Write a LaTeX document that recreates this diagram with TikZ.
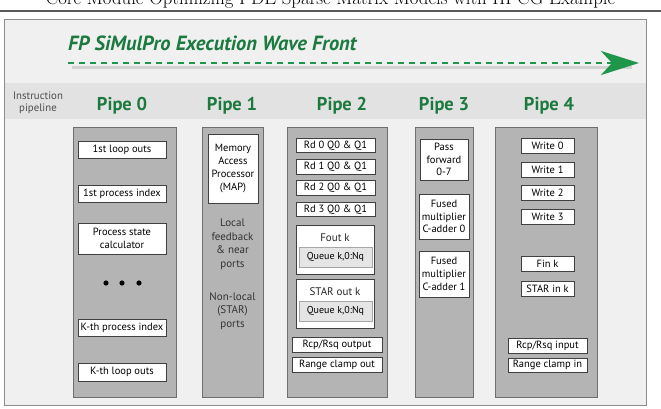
\documentclass[tikz,border=0pt]{standalone}
\usepackage{fontspec}
\setsansfont{PT Sans}
\usetikzlibrary{arrows.meta}
\definecolor{wavegreen}{RGB}{30,150,76}
\definecolor{pipegreen}{RGB}{28,122,64}
\definecolor{framegray}{RGB}{240,240,240}
\definecolor{bandgray}{RGB}{226,226,226}
\definecolor{colgray}{RGB}{180,180,180}
\definecolor{edgegray}{RGB}{110,110,110}

\begin{document}
\begin{tikzpicture}[
  x=1pt, y=-1pt,
  pipe/.style={draw=edgegray, fill=colgray, line width=0.9pt, inner sep=0pt},
  cell/.style={draw=black!75, fill=white, line width=0.8pt, align=center,
               inner sep=1pt, font=\sffamily\fontsize{10.5}{12.7}\selectfont},
  queue/.style={draw=black!35, fill=black!10, line width=0.6pt, inner sep=1pt,
                minimum width=73pt, minimum height=20pt,
                font=\sffamily\fontsize{10}{12}\selectfont},
  note/.style={align=center, inner sep=0pt, text=black!80,
               font=\sffamily\fontsize{11}{13.5}\selectfont},
  pipelabel/.style={text=pipegreen, inner sep=0pt,
                    font=\sffamily\bfseries\fontsize{18.5}{20}\selectfont},
  wave/.style={wavegreen, line width=2.8pt, dash pattern=on 6pt off 5pt,
               -{Stealth[length=38pt, width=24pt, inset=11pt]}}
]
  \useasboundingbox (0,0) rectangle (661,409);

  % page header, cut at the top
  \node[anchor=base, font=\fontsize{18.8}{20}\selectfont, inner sep=0pt] (header)
    at (330.5,4.5) {Core Module Optimizing PDE Sparse Matrix Models with HPCG Example};
  \draw[black!65, line width=1.2pt] (0,11) -- (661,11);

  % frame and pipeline band
  \filldraw[fill=framegray, draw=black!45, line width=0.9pt] (4,19) rectangle (646,405);
  \fill[bandgray] (4.5,83) rectangle (645.5,119);

  \node[anchor=west, text=pipegreen, inner sep=0pt,
        font=\sffamily\bfseries\itshape\fontsize{20.5}{22}\selectfont] (title)
    at (68,43) {FP SiMulPro Execution Wave Front};
  \coordinate (wave start) at (68,63);
  \coordinate (wave end) at (639,63);
  \draw[black, opacity=0.12, line width=3pt] (72,68) -- (632,68);
  \draw[wave] (wave start) -- (wave end);

  \node[note, text=black!70, font=\sffamily\fontsize{10.8}{12.5}\selectfont] (instr)
    at (38,103) {Instruction\\pipeline};
  \node[pipelabel] (p0) at (122,106) {Pipe 0};
  \node[pipelabel] (p1) at (232,106) {Pipe 1};
  \node[pipelabel] (p2) at (342,106) {Pipe 2};
  \node[pipelabel] (p3) at (444,106) {Pipe 3};
  \node[pipelabel] (p4) at (549,106) {Pipe 4};

  % pipe columns
  \node[pipe, minimum width=103pt, minimum height=270pt] (col0) at (124.5,262) {};
  \node[pipe, minimum width=61pt, minimum height=270pt] (col1) at (232.5,262) {};
  \node[pipe, minimum width=100pt, minimum height=270pt] (col2) at (337,262) {};
  \node[pipe, minimum width=58pt, minimum height=270pt] (col3) at (444,262) {};
  \node[pipe, minimum width=102pt, minimum height=270pt] (col4) at (546,262) {};

  % Pipe 0
  \node[cell, minimum width=88pt, minimum height=17pt] (loop1) at (122,149.5) {1st loop outs};
  \node[cell, minimum width=88pt, minimum height=17pt] (pidx1) at (122,193.5) {1st process index};
  \node[cell, minimum width=88pt, minimum height=31pt] (psc) at (122,238.5) {Process state\\calculator};
  \foreach \x [count=\i] in {106,122,139}
    \fill (\x,283) circle (2.6pt) coordinate (dot\i);
  \node[cell, minimum width=88pt, minimum height=17pt] (pidxk) at (122,327.5) {K-th process index};
  \node[cell, minimum width=88pt, minimum height=18pt] (loopk) at (122,372) {K-th loop outs};

  % Pipe 1
  \node[cell, minimum width=50pt, minimum height=69pt] (map) at (233,168.5)
    {Memory\\Access\\Processor\\(MAP)};
  \node[note] (local) at (232.5,244) {Local\\feedback\\\& near\\ports};
  \node[note] (star) at (232.5,311) {Non-local\\(STAR)\\ports};

  % Pipe 2
  \node[cell, minimum width=79pt, minimum height=14.5pt] (rd0) at (335.5,145.5) {Rd 0 Q0 \& Q1};
  \node[cell, minimum width=79pt, minimum height=14.5pt] (rd1) at (335.5,167) {Rd 1 Q0 \& Q1};
  \node[cell, minimum width=79pt, minimum height=14.5pt] (rd2) at (335.5,188) {Rd 2 Q0 \& Q1};
  \node[cell, minimum width=79pt, minimum height=14.5pt] (rd3) at (335.5,209.5) {Rd 3 Q0 \& Q1};
  \node[cell, minimum width=78pt, minimum height=49pt] (fout) at (335,249.5) {};
  \node[note, text=black!85] (foutk) at (335,238) {Fout k};
  \node[queue] (qfout) at (335.5,257) {Queue k,0:Nq};
  \node[cell, minimum width=78pt, minimum height=49pt] (starout) at (335,303.5) {};
  \node[note, text=black!85] (staroutk) at (335,291.5) {STAR out k};
  \node[queue] (qstar) at (335.5,311) {Queue k,0:Nq};
  \node[cell, minimum width=90pt, minimum height=15pt] (rcpout) at (337,344.5) {Rcp/Rsq output};
  \node[cell, minimum width=90pt, minimum height=15pt] (clampout) at (337,364.5) {Range clamp out};

  % Pipe 3
  \node[cell, minimum width=48pt, minimum height=41pt] (pass) at (444,159.5) {Pass\\forward\\0-7};
  \node[cell, minimum width=50pt, minimum height=45pt] (fused0) at (444,216.5) {Fused\\multiplier\\C-adder 0};
  \node[cell, minimum width=50pt, minimum height=46pt] (fused1) at (444,274) {Fused\\multiplier\\C-adder 1};

  % Pipe 4
  \node[cell, minimum width=53pt, minimum height=15pt] (wr0) at (547.5,146) {Write 0};
  \node[cell, minimum width=53pt, minimum height=15pt] (wr1) at (547.5,169.5) {Write 1};
  \node[cell, minimum width=53pt, minimum height=15pt] (wr2) at (547.5,192.5) {Write 2};
  \node[cell, minimum width=53pt, minimum height=15pt] (wr3) at (547.5,216.5) {Write 3};
  \node[cell, minimum width=53pt, minimum height=15pt] (fin) at (547.5,263.5) {Fin k};
  \node[cell, minimum width=53pt, minimum height=15pt] (starin) at (547.5,288.5) {STAR in k};
  \node[cell, minimum width=79pt, minimum height=15pt] (rcpin) at (547.5,345.5) {Rcp/Rsq input};
  \node[cell, minimum width=79pt, minimum height=14pt] (clampin) at (547.5,365) {Range clamp in};
\end{tikzpicture}
\end{document}
